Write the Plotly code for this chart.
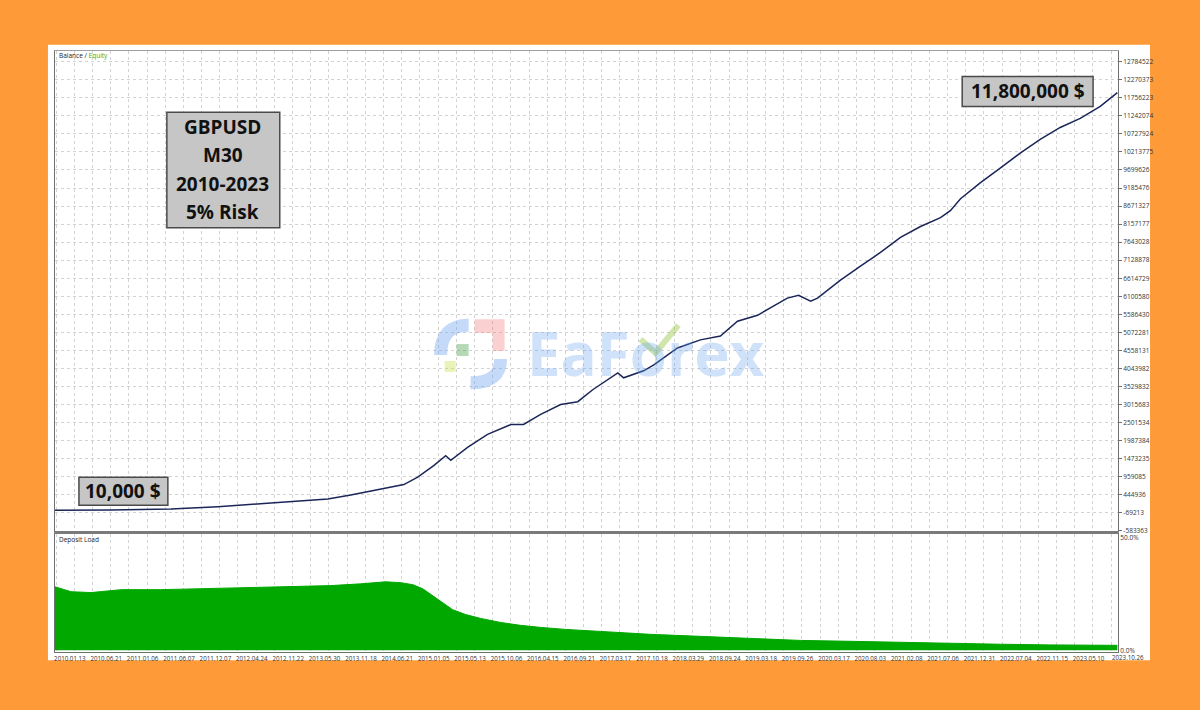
import plotly.graph_objects as go

# ---------------- data ----------------
x_labels = ["2010.01.13", "2010.06.21", "2011.01.06", "2011.06.07", "2011.12.07",
            "2012.04.24", "2012.11.22", "2013.05.30", "2013.11.18", "2014.06.21",
            "2015.01.05", "2015.05.13", "2015.10.06", "2016.04.15", "2016.09.21",
            "2017.03.17", "2017.10.18", "2018.03.29", "2018.09.24", "2019.03.18",
            "2019.09.26", "2020.03.17", "2020.08.03", "2021.02.08", "2021.07.06",
            "2021.12.31", "2022.07.04", "2022.11.15", "2023.05.10", "2023.10.26"]

y_tick_values = [-583363, -69213, 444936, 959085, 1473235, 1987384, 2501534, 3015683,
                 3529832, 4043982, 4558131, 5072281, 5586430, 6100580, 6614729,
                 7128878, 7643028, 8157177, 8671327, 9185476, 9699626, 10213775,
                 10727924, 11242074, 11756223, 12270373, 12784522]

# balance curve (x = position on the time scale, one unit per date label)
balance_x = [-0.03, 1.51, 3.16, 4.45, 5.71, 6.81, 7.47, 8.10, 8.65, 9.20, 9.56, 9.94,
             10.38, 10.71, 10.85, 11.31, 11.86, 12.50, 12.85, 13.32, 13.87, 14.34,
             14.75, 15.44, 15.60, 16.15, 16.43, 17.08, 17.71, 18.26, 18.73, 19.28,
             19.72, 20.10, 20.41, 20.74, 20.93, 21.56, 22.11, 22.66, 23.21, 23.76,
             24.31, 24.58, 24.86, 25.40, 25.95, 26.50, 27.05, 27.60, 28.15, 28.70, 29.17]
balance_y = [10000, 12000, 40000, 110000, 200000, 270000, 330000, 440000, 560000,
             680000, 740000, 950000, 1280000, 1560000, 1430000, 1800000, 2170000,
             2450000, 2450000, 2740000, 3020000, 3100000, 3440000, 3920000, 3780000,
             3980000, 4150000, 4630000, 4860000, 4970000, 5390000, 5560000, 5820000,
             6050000, 6130000, 5960000, 6050000, 6560000, 6960000, 7350000, 7780000,
             8090000, 8340000, 8540000, 8880000, 9330000, 9750000, 10180000, 10570000,
             10910000, 11170000, 11510000, 11900000]

# deposit load (%)
load_x = [-0.03, 0.41, 0.96, 1.79, 2.88, 3.98, 5.36, 6.73, 7.55, 8.38, 9.06, 9.48,
          9.81, 10.08, 10.35, 10.63, 10.90, 11.26, 11.67, 12.22, 12.77, 13.32, 14.01,
          14.97, 16.34, 17.71, 19.09, 20.46, 21.83, 23.21, 24.58, 25.95, 27.33, 29.17]
load_y = [28.3, 26.1, 25.7, 27.0, 27.0, 27.4, 27.9, 28.3, 28.8, 29.6, 30.5, 30.1,
          29.2, 27.4, 24.3, 20.8, 18.1, 15.9, 14.2, 12.4, 11.1, 10.2, 9.3,
          8.4, 7.1, 6.2, 5.3, 4.4, 4.0, 3.5, 3.1, 2.7, 2.4, 2.2]

load_ticks = [0, 50]
load_tick_text = ["0.0%", "50.0%"]

info_lines = ["GBPUSD", "M30", "2010-2023", "5% Risk"]
start_label = "10,000 $"
end_label = "11,800,000 $"

# ---------------- layout helpers ----------------
W, H = 1200, 710
def px(x):
    return x / W
def py(y):
    return 1 - y / H

ORANGE = "#FE9A37"
GRID = "#D2D2D2"
LINE = "#1B2658"
GREEN = "#00A800"
SMALL = "Open Sans, sans-serif"
SMALL_SIZE = 6.2

fig = go.Figure()

fig.add_trace(go.Scatter(x=balance_x, y=balance_y, mode="lines",
                         line=dict(color=LINE, width=1.5), xaxis="x", yaxis="y",
                         hoverinfo="skip", showlegend=False))
fig.add_trace(go.Scatter(x=load_x, y=load_y, mode="lines", fill="tozeroy",
                         line=dict(color=GREEN, width=1), fillcolor=GREEN,
                         xaxis="x2", yaxis="y2", hoverinfo="skip", showlegend=False))

xr = [-0.03, 29.19]
n_shown = len(x_labels) - 1   # last label sits at the right edge, drawn separately
tickpos = [i + 0.38 for i in range(n_shown)]
minor = dict(tick0=0, dtick=0.5, showgrid=True, gridcolor=GRID, griddash="dot",
             gridwidth=1, ticklen=0)
tickfont = dict(size=SMALL_SIZE, color="#333", family=SMALL)

fig.update_layout(
    width=W, height=H,
    margin=dict(l=0, r=0, t=0, b=0),
    paper_bgcolor=ORANGE, plot_bgcolor="white",
    font=dict(family="Open Sans, sans-serif", color="#333"),
    xaxis=dict(domain=[px(54), px(1118)], anchor="y", range=xr,
               tickmode="array", tickvals=tickpos, ticktext=x_labels[:n_shown],
               showticklabels=False, showgrid=False, zeroline=False, ticks="",
               minor=minor, showline=True, mirror=True, linecolor="#A0A0A0", linewidth=1),
    yaxis=dict(domain=[py(534), py(50)], anchor="x", side="right",
               range=[-611675, 13095954], tickmode="array", tickvals=y_tick_values,
               ticktext=[str(v) for v in y_tick_values],
               tickfont=dict(size=6.5, color="#333", family=SMALL), showgrid=True,
               gridcolor=GRID, griddash="dot", zeroline=False, ticks="outside",
               ticklen=3, tickcolor="#707070", showline=True, mirror=True,
               linecolor="#707070", linewidth=1),
    xaxis2=dict(domain=[px(54), px(1118)], anchor="y2", range=xr, matches="x",
                tickmode="array", tickvals=tickpos, ticktext=x_labels[:n_shown],
                tickangle=0, tickfont=tickfont, showgrid=False, zeroline=False,
                ticks="", minor=minor, showline=True, mirror=True,
                linecolor="#707070", linewidth=1),
    yaxis2=dict(domain=[py(655), py(536)], anchor="x2", side="right",
                range=[-0.9, 51.8], tickmode="array", tickvals=load_ticks,
                ticktext=load_tick_text, tickfont=dict(size=6.5, color="#333", family=SMALL),
                showgrid=False, zeroline=False, ticks="", showline=True, mirror=True,
                linecolor="#707070", linewidth=1),
)

shapes = []
# white card
shapes.append(dict(type="rect", xref="paper", yref="paper", layer="below",
                   x0=px(47), x1=px(1150), y0=py(663), y1=py(44),
                   fillcolor="white", line=dict(width=0)))
# panel separator
shapes.append(dict(type="line", xref="paper", yref="paper",
                   x0=px(54), x1=px(1118), y0=py(534.5), y1=py(534.5),
                   line=dict(color="#7A7A7A", width=3)))

# watermark logo (approximate)
def pth(points):
    s = "M {:.5f},{:.5f}".format(px(points[0][0]), py(points[0][1]))
    for p in points[1:]:
        s += " L {:.5f},{:.5f}".format(px(p[0]), py(p[1]))
    return s
def qpath(p0, c, p1):
    return "M {:.5f},{:.5f} Q {:.5f},{:.5f} {:.5f},{:.5f}".format(
        px(p0[0]), py(p0[1]), px(c[0]), py(c[1]), px(p1[0]), py(p1[1]))

shapes.append(dict(type="path", xref="paper", yref="paper", path=qpath((440, 356), (440, 326), (468, 326)),
                   line=dict(color="rgba(110,160,240,0.40)", width=13)))
shapes.append(dict(type="path", xref="paper", yref="paper", path=qpath((500, 360), (500, 384), (470, 384)),
                   line=dict(color="rgba(110,160,240,0.40)", width=13)))
shapes.append(dict(type="path", xref="paper", yref="paper",
                   path=pth([(474, 320), (504, 320), (504, 352), (492, 352), (492, 334), (474, 334)]) + " Z",
                   fillcolor="rgba(240,120,120,0.35)", line=dict(width=0)))
shapes.append(dict(type="rect", xref="paper", yref="paper",
                   x0=px(456), x1=px(468), y0=py(357), y1=py(345),
                   fillcolor="rgba(70,160,70,0.40)", line=dict(width=0)))
shapes.append(dict(type="rect", xref="paper", yref="paper",
                   x0=px(444), x1=px(455), y0=py(373), y1=py(362),
                   fillcolor="rgba(200,225,80,0.40)", line=dict(width=0)))
shapes.append(dict(type="path", xref="paper", yref="paper",
                   path=pth([(640, 340), (655, 354), (678, 326)]),
                   line=dict(color="rgba(150,200,70,0.45)", width=6)))

# annotation boxes
BOXFILL = "#C6C6C6"
BOXLINE = "#4A4A4A"
for (x0, y0, x1, y1) in [(166, 112, 279, 228), (78, 479, 167, 507), (962, 76, 1093, 106)]:
    shapes.append(dict(type="rect", xref="paper", yref="paper",
                       x0=px(x0), x1=px(x1), y0=py(y1), y1=py(y0),
                       fillcolor=BOXFILL, line=dict(color=BOXLINE, width=1.5)))

annotations = []
BOLD = dict(family="Open Sans, sans-serif", size=19, color="#111")
for txt, yy in zip(info_lines, [127, 155, 184, 212]):
    annotations.append(dict(xref="paper", yref="paper", x=px(222), y=py(yy),
                            text="<b>%s</b>" % txt, showarrow=False,
                            xanchor="center", yanchor="middle", font=BOLD))
annotations.append(dict(xref="paper", yref="paper", x=px(122.5), y=py(493),
                        text="<b>%s</b>" % start_label, showarrow=False,
                        xanchor="center", yanchor="middle", font=BOLD))
annotations.append(dict(xref="paper", yref="paper", x=px(1027.5), y=py(91),
                        text="<b>%s</b>" % end_label, showarrow=False,
                        xanchor="center", yanchor="middle", font=BOLD))
annotations.append(dict(xref="paper", yref="paper", x=px(56), y=py(55),
                        text="<span style='color:#222'>Balance / </span><span style='color:#33AA33'>Equity</span>",
                        showarrow=False, xanchor="left", yanchor="middle",
                        font=dict(size=6.5, family=SMALL)))
annotations.append(dict(xref="paper", yref="paper", x=px(56), y=py(542),
                        text="Deposit Load", showarrow=False, xanchor="left",
                        yanchor="middle", font=dict(size=6.5, color="#222",
                                                    family=SMALL)))
# last date label at the right edge (partly under the 0.0% label, as in the source)
annotations.append(dict(xref="paper", yref="paper", x=px(1111), y=py(660),
                        text=x_labels[-1], showarrow=False, xanchor="left",
                        yanchor="middle", borderpad=0,
                        font=dict(size=SMALL_SIZE, color="#333", family=SMALL)))
annotations.append(dict(xref="paper", yref="paper", x=px(646), y=py(354),
                        text="<b>EaForex</b>", showarrow=False, xanchor="center",
                        yanchor="middle",
                        font=dict(size=60, color="rgba(95,160,240,0.30)",
                                  family="Open Sans, sans-serif")))

fig.update_layout(shapes=shapes, annotations=annotations)

fig.write_html("out.html", config={"displayModeBar": False},
               post_script="document.body.style.margin='0';"
                           "document.body.style.background='" + ORANGE + "';"
                           "document.body.style.overflow='hidden';")
